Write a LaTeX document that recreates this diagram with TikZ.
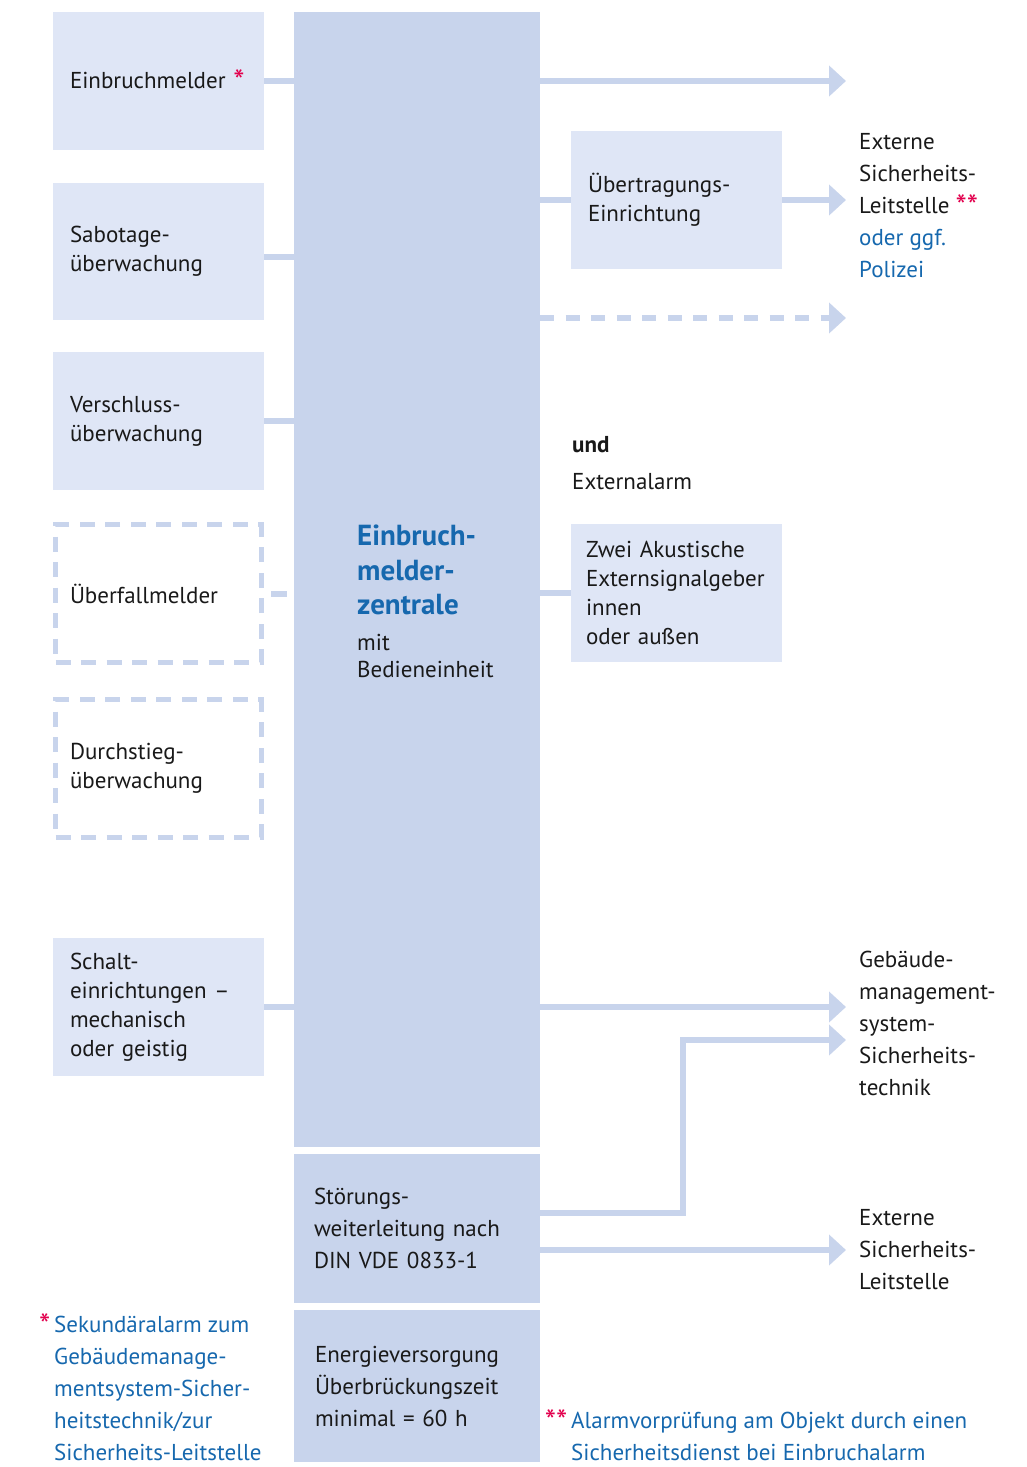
\documentclass[tikz,border=0pt]{standalone}
\usepackage{fontspec}
\setmainfont{PT Sans}
\usetikzlibrary{arrows.meta,positioning,calc}
\definecolor{BarBlue}{RGB}{200,212,236}
\definecolor{BoxBlue}{RGB}{223,230,246}
\definecolor{NoteBlue}{RGB}{22,104,174}
\definecolor{StarRed}{RGB}{226,0,77}
\definecolor{Ink}{RGB}{25,25,25}
\newcommand{\zentralefont}{\bfseries\color{NoteBlue}\fontsize{29}{35}\selectfont}
\newcommand{\stern}[1]{\textcolor{StarRed}{\raisebox{-3.5pt}{\fontsize{32}{32}\selectfont #1}}}
\hyphenpenalty=10000
\exhyphenpenalty=10000

\begin{document}
\begin{tikzpicture}[
    x=1pt,y=-1pt,
    font=\fontsize{23}{29}\selectfont,
    every node/.style={text=Ink},
    box/.style={fill=BoxBlue,anchor=north west,outer sep=0pt,inner ysep=0pt,inner xsep=17pt,text width=177pt,minimum height=138pt,align=left},
    dbox/.style={box,fill=none,draw=BarBlue,line width=5pt,dash pattern=on 15pt off 10.5pt,outer sep=2.5pt,inner xsep=14.5pt,text width=176.5pt},
    zbox/.style={fill=BarBlue,anchor=north west,outer sep=0pt,inner ysep=0pt,inner xsep=20pt,text width=206pt,align=left,font=\fontsize{23}{32}\selectfont},
    rtext/.style={anchor=west,inner sep=0pt,align=left,font=\fontsize{23}{32}\selectfont},
    note/.style={rtext,text=NoteBlue},
    conn/.style={draw=BarBlue,line width=6pt},
    arr/.style={conn,-{Triangle[length=17pt,width=30pt]},shorten >=13pt}
  ]
    \useasboundingbox (0,0) rectangle (1027,1467);

    % zentrale and lower blocks
    \node[fill=BarBlue,anchor=north west,outer sep=0pt,inner sep=0pt,minimum width=246pt,minimum height=1135pt] (zentrale) at (294,12) {};
    \node[anchor=west,inner sep=0pt,align=left] (zlabel) at (357,601)
      {{\zentralefont Einbruch-}\\[6pt]{\zentralefont melder-}\\[5pt]{\zentralefont zentrale}\\[7pt]mit\\[-2pt]Bedieneinheit};
    \node[zbox,minimum height=149pt] (stoer) at (294,1154) {St\"orungs-\\weiterleitung nach\\DIN VDE 0833-1};
    \node[zbox,minimum height=152pt,inner xsep=21pt,text width=204pt] (energie) at (294,1310) {Energieversorgung\\\"Uberbr\"uckungszeit\\minimal = 60 h};

    % left side
    \node[box] (b1) at (53,12) {Einbruchmelder \stern{*}};
    \node[box,minimum height=137pt] (b2) at (53,183) {Sabotage-\\\"uberwachung};
    \node[box] (b3) at (53,352) {Verschluss-\\\"uberwachung};
    \node[dbox] (b4) at (53,522) {\"Uberfallmelder};
    \node[dbox] (b5) at (53,697) {Durchstieg-\\\"uberwachung};
    \node[box] (schalt) at (53,938) {Schalt-\\einrichtungen --\\mechanisch\\oder geistig};

    \draw[conn] (b1.east) -- (zentrale.west |- b1.east);
    \draw[conn] ([yshift=-5pt]b2.east) -- ([yshift=-5pt]zentrale.west |- b2.east);
    \draw[conn] (b3.east) -- (zentrale.west |- b3.east);
    \draw[conn,shorten <=7.5pt,shorten >=7pt] (b4.east) -- (zentrale.west |- b4.east);
    \draw[conn] (schalt.east) -- (zentrale.west |- schalt.east);

    % right side
    \node[box] (ueb) at (571,131) {\"Ubertragungs-\\Einrichtung};
    \node[box,inner xsep=15pt,text width=181pt] (akustik) at (571,524) {Zwei Akustische\\Externsignalgeber\\innen\\oder au\ss en};
    \node[rtext,font=\fontsize{23}{37}\selectfont] (und) at (572,463) {\textbf{und}\\Externalarm};

    \node[rtext] (ext1) at (859,206) {Externe\\Sicherheits-\\Leitstelle \stern{**}\\\textcolor{NoteBlue}{oder ggf.}\\\textcolor{NoteBlue}{Polizei}};
    \node[rtext] (geb) at (859,1023) {Geb\"aude-\\management-\\system-\\Sicherheits-\\technik};
    \node[rtext] (ext2) at (859,1250) {Externe\\Sicherheits-\\Leitstelle};

    \draw[arr] (zentrale.east |- b1.east) -- (ext1.west |- b1.east);
    \draw[conn] (zentrale.east |- ueb.west) -- (ueb.west);
    \draw[arr] (ueb.east) -- (ext1.west |- ueb.east);
    \draw[arr,dash pattern=on 14pt off 11.5pt] (zentrale.east |- 0,318) -- (ext1.west |- 0,318);
    \draw[conn] (zentrale.east |- akustik.west) -- (akustik.west);

    \draw[arr] (zentrale.east |- schalt.east) -- (geb.west |- schalt.east);
    \coordinate (knick) at (683,1040);
    \draw[arr] ([yshift=15.5pt]stoer.east) -| (knick) -- (geb.west |- knick);
    \draw[arr] (stoer.east |- ext2.west) -- (ext2.west);

    % footnotes
    \node[note] (fn1) at (54,1387) {\llap{\stern{*}\,}Sekund\"aralarm zum\\Geb\"audemanage-\\mentsystem-Sicher-\\heitstechnik/zur\\Sicherheits-Leitstelle};
    \node[note] (fn2) at (571,1435) {\llap{\stern{**}\,}Alarmvorpr\"ufung am Objekt durch einen\\Sicherheitsdienst bei Einbruchalarm};
  \end{tikzpicture}
\end{document}
